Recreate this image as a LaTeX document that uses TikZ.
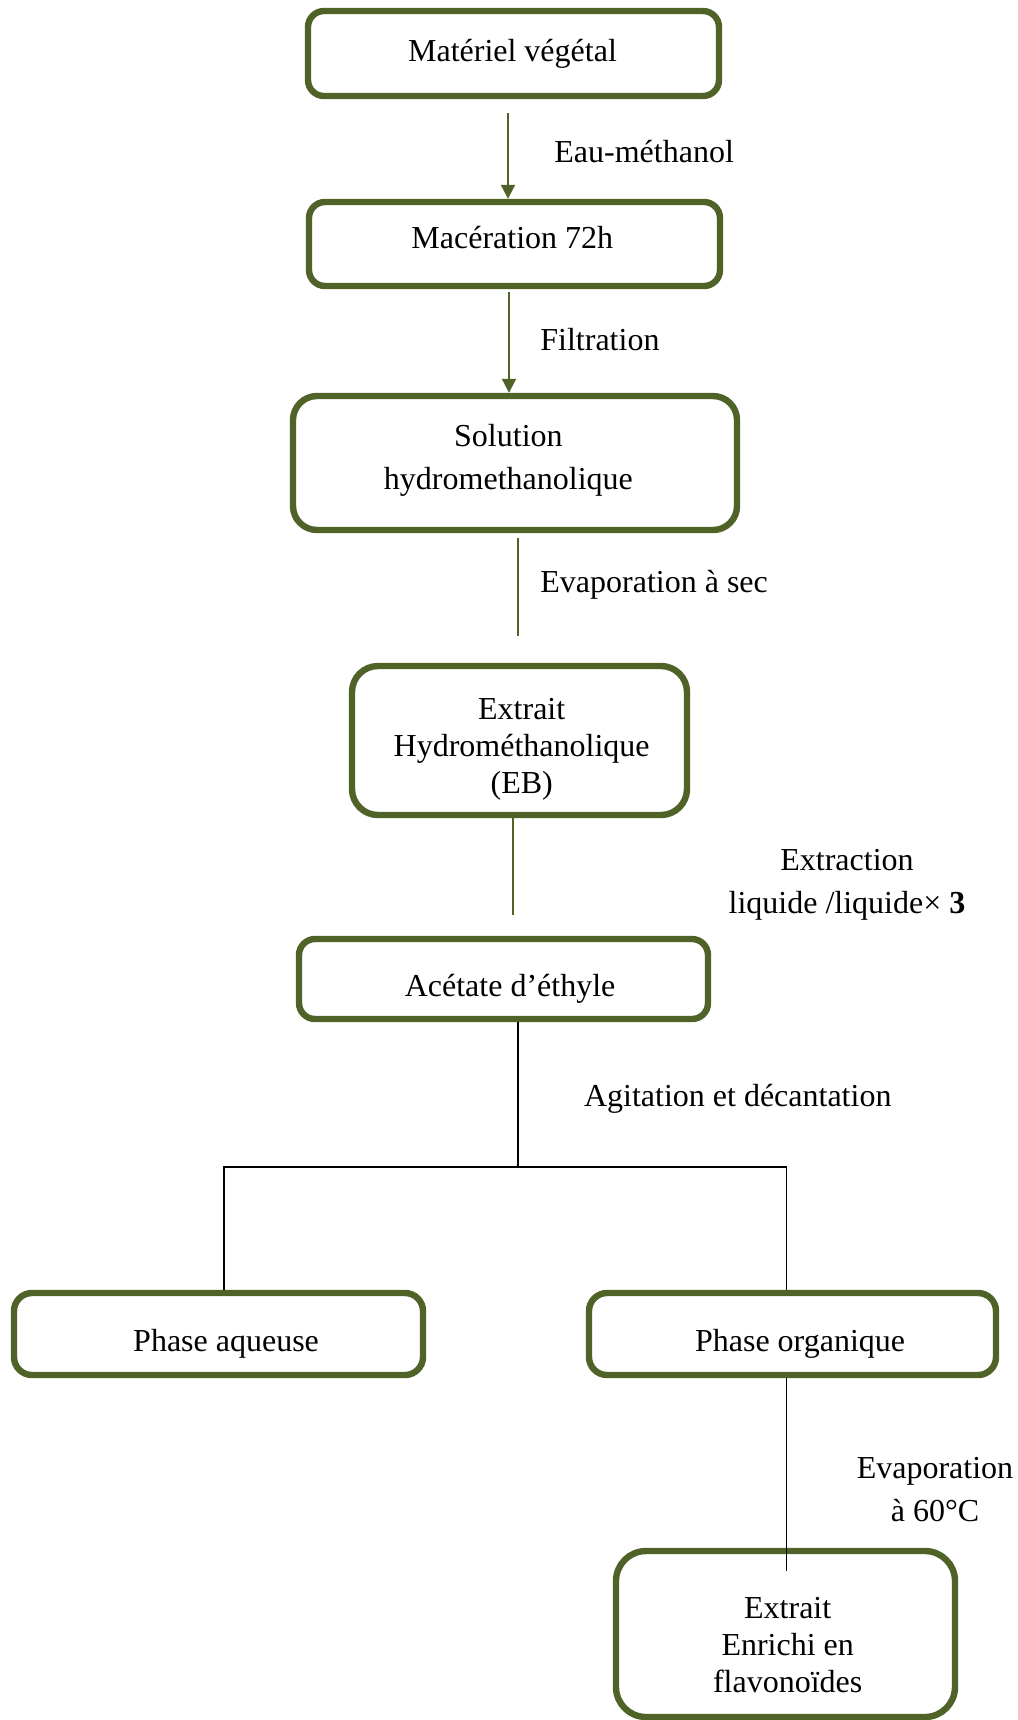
\documentclass[tikz,border=0pt]{standalone}
\usepackage{fontspec}
\setmainfont{Liberation Serif}
\usetikzlibrary{arrows.meta}
\definecolor{olivebox}{HTML}{4F6228}
% #1: shift right (pt), #2: shift down (pt), #3: lines
\newcommand{\bxtext}[3]{\hspace*{#1}\hspace*{#1}\raisebox{-#2}[\height][\depth]{\begin{tabular}{@{}c@{}}#3\end{tabular}}}
\begin{document}
\begin{tikzpicture}[x=0.5pt,y=-0.5pt,
 box/.style={draw=olivebox, line width=3.2pt, fill=white, inner sep=0pt, font=\fontsize{16}{18.6}\selectfont},
 lbl/.style={align=center, inner sep=0pt, font=\fontsize{16}{21.5}\selectfont},
 garrow/.style={draw=olivebox, line width=1pt, -{Triangle[length=7pt,width=7pt]}},
 gline/.style={draw=olivebox, line width=1pt},
 bline/.style={draw=black, line width=0.8pt}]
\useasboundingbox (0,0) rectangle (1018,1720);

\node[box, minimum width=205.5pt, minimum height=42.5pt, rounded corners=8pt] (n1) at (513.5,53.5) {\bxtext{-0.5pt}{0.5pt}{Matériel végétal}};
\node[box, minimum width=205.5pt, minimum height=42pt, rounded corners=8pt] (n2) at (514.5,244) {\bxtext{-1.1pt}{-1.6pt}{Macération 72h}};
\node[box, minimum width=222pt, minimum height=67pt, rounded corners=12pt, font=\fontsize{16}{21.5}\selectfont] (n3) at (515,463) {\bxtext{-3.3pt}{-1.6pt}{Solution\\hydromethanolique}};
\node[box, minimum width=167.5pt, minimum height=74.5pt, rounded corners=13pt] (n4) at (519.5,740.5) {\bxtext{1.1pt}{4.4pt}{Extrait\\Hydrométhanolique\\(EB)}};
\node[box, minimum width=204.5pt, minimum height=40pt, rounded corners=8pt] (n5) at (503.5,979) {\bxtext{3.3pt}{4.9pt}{Acétate d’éthyle}};
\node[box, minimum width=204.5pt, minimum height=41pt, rounded corners=9pt] (n6) at (218.5,1334) {\bxtext{3.8pt}{4.9pt}{Phase aqueuse}};
\node[box, minimum width=203.5pt, minimum height=41pt, rounded corners=9pt] (n7) at (792.5,1334) {\bxtext{3.8pt}{4.9pt}{Phase organique}};
\node[box, minimum width=169.5pt, minimum height=83pt, rounded corners=15pt] (n8) at (785.5,1634) {\bxtext{1.1pt}{7pt}{Extrait\\Enrichi en\\flavonoïdes}};

% connectors
\coordinate (a1) at (508,113);
\draw[garrow] (a1) -- (a1 |- n2.north);
\coordinate (a2) at (509,292);
\draw[garrow] (a2) -- (a2 |- n3.north);
\coordinate (c3a) at (518,538);
\coordinate (c3b) at (518,636);
\draw[gline] (c3a) -- (c3b);
\coordinate (c4) at (513.4,915);
\draw[gline] (n4.south -| c4) -- (c4);
\coordinate (j) at (517.7,1166.7);
\draw[bline] (n5.south -| j) -- (j);
\draw[bline] ([xshift=2.75pt]n6.north) |- (j) -| ([xshift=-3pt]n7.north);
\coordinate (c6) at (786.5,1571);
\draw[bline] ([xshift=-3pt]n7.south) -- (c6);

% labels
\node[lbl, anchor=west] (l1) at (554,151.4) {Eau-méthanol};
\node[lbl, anchor=west] (l2) at (540,340) {Filtration};
\node[lbl, anchor=west] (l3) at (540,584.5) {Evaporation à sec};
\node[lbl] (l4) at (847,885) {Extraction\\liquide /liquide× \textbf{3}};
\node[lbl, anchor=west] (l5) at (583.6,1098.5) {Agitation et décantation};
\node[lbl] (l6) at (935,1490) {Evaporation\\à 60°C};
\end{tikzpicture}
\end{document}
